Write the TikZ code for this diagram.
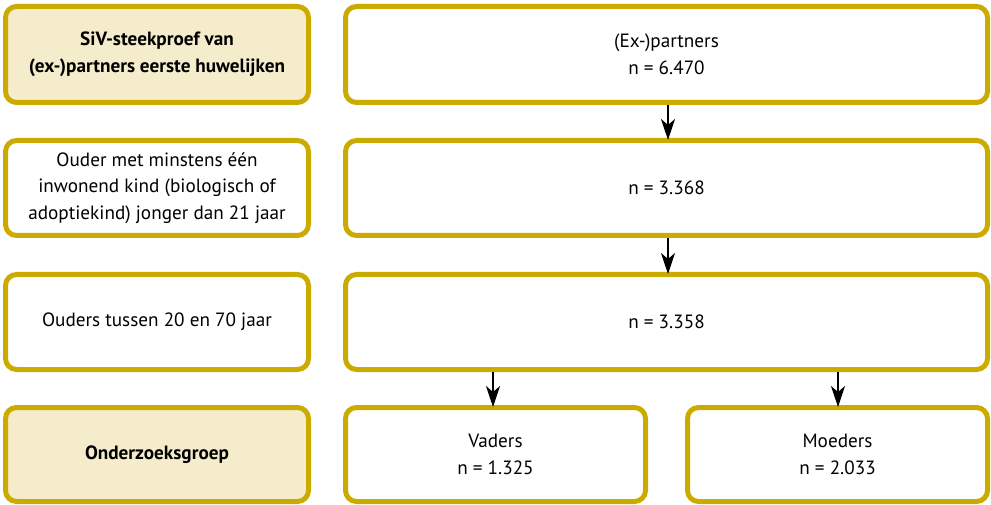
\documentclass[tikz,border=0pt]{standalone}
\usepackage{fontspec}
\setmainfont{PT Sans}
\usetikzlibrary{arrows.meta}
\definecolor{gold}{HTML}{CCAB00}
\definecolor{beige}{HTML}{F4ECCB}
\begin{document}
\begin{tikzpicture}[x=1pt,y=-1pt,
  box/.style={draw=gold,line width=5pt,rounded corners=11pt,fill=white,
    align=center,font=\fontsize{19.2}{26.5}\selectfont,inner sep=0pt},
  hl/.style={box,fill=beige,font=\fontsize{19.2}{26.5}\selectfont\bfseries},
  arr/.style={line width=1.5pt,-{Stealth[length=21pt,width=14pt,inset=6pt]},shorten >=-2pt}]
\useasboundingbox (0,0) rectangle (991,505);
\node[hl,minimum width=303pt,minimum height=96pt] (l1) at (157,54.5) {SiV-steekproef van\\(ex-)partners eerste huwelijken};
\node[box,minimum width=303pt,minimum height=95pt] (l2) at (157,188) {Ouder met minstens één\\inwonend kind (biologisch of\\adoptiekind) jonger dan 21 jaar};
\node[box,minimum width=303pt,minimum height=95pt] (l3) at (157,322) {Ouders tussen 20 en 70 jaar};
\node[hl,minimum width=303pt,minimum height=94pt] (l4) at (157,454.5) {Onderzoeksgroep};
\node[box,minimum width=642pt,minimum height=96pt] (r1) at (666.5,54.5) {(Ex-)partners\\n = 6.470};
\node[box,minimum width=642pt,minimum height=95pt] (r2) at (666.5,188) {n = 3.368};
\node[box,minimum width=642pt,minimum height=95pt] (r3) at (666.5,322) {n = 3.358};
\node[box,minimum width=300pt,minimum height=94pt] (v) at (495.5,454.5) {Vaders\\n = 1.325};
\node[box,minimum width=300pt,minimum height=94pt] (m) at (837.5,454.5) {Moeders\\n = 2.033};
\draw[arr] ([xshift=1.5pt]r1.south) -- ([xshift=1.5pt]r2.north);
\draw[arr] ([xshift=1.5pt]r2.south) -- ([xshift=1.5pt]r3.north);
\draw[arr] ([xshift=-2.5pt]r3.south -| v) -- ([xshift=-2.5pt]v.north);
\draw[arr] ([xshift=0.5pt]r3.south -| m) -- ([xshift=0.5pt]m.north);
\end{tikzpicture}
\end{document}
